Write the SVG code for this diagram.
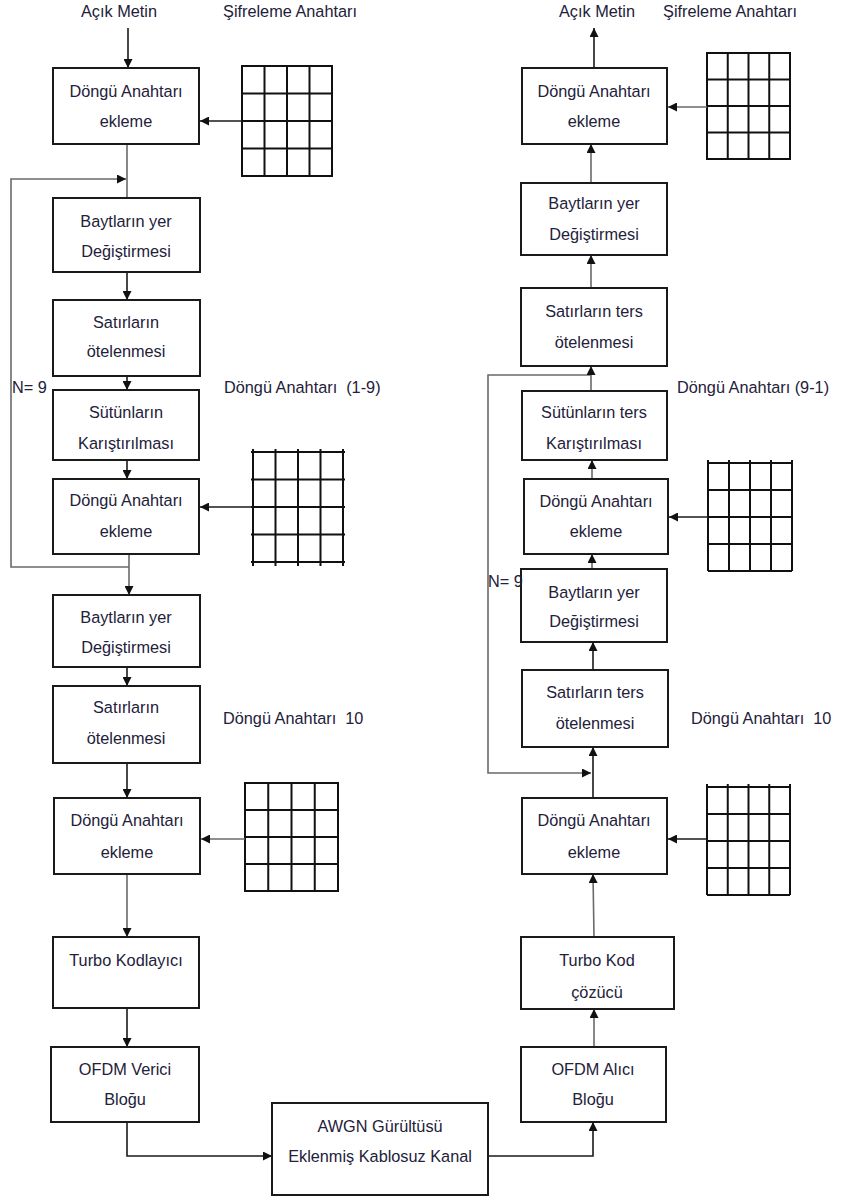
<svg xmlns="http://www.w3.org/2000/svg" width="841" height="1198" viewBox="0 0 841 1198">
  <style>
    .box { fill: #ffffff; stroke: #1a1a1a; stroke-width: 2; }
    .t { font-family: "Liberation Sans", Arial, sans-serif; font-size: 16.3px; fill: #23213a; text-anchor: middle; }
    .lbl { font-family: "Liberation Sans", Arial, sans-serif; font-size: 16.3px; fill: #23213a; }
    .ln { fill: none; stroke: #1a1a1a; stroke-width: 1.6; }
    .lg { fill: none; stroke: #6a6a6a; stroke-width: 1.6; }
    .grid { fill: none; stroke: #111111; stroke-width: 2; }
  </style>
  <defs>
    <marker id="ah" viewBox="0 0 10 10" refX="10" refY="5" markerWidth="9" markerHeight="9" markerUnits="userSpaceOnUse" orient="auto">
      <path d="M0,0 L10,5 L0,10 Z" fill="#111111"/>
    </marker>
  </defs>

  <!-- top labels -->
  <g id="labels">
    <text class="t" x="119" y="17">Açık Metin</text>
    <text class="t" x="290" y="17">Şifreleme Anahtarı</text>
    <text class="t" x="597" y="17">Açık Metin</text>
    <text class="t" x="730" y="17">Şifreleme Anahtarı</text>
    <text class="lbl" x="12" y="393">N= 9</text>
    <text class="lbl" x="224" y="393" xml:space="preserve">Döngü Anahtarı  (1-9)</text>
    <text class="lbl" x="223" y="724" xml:space="preserve">Döngü Anahtarı  10</text>
    <text class="lbl" x="677" y="393">Döngü Anahtarı (9-1)</text>
    <text class="lbl" x="691" y="724" xml:space="preserve">Döngü Anahtarı  10</text>
  </g>

  <!-- key matrices -->
  <g id="key-grid-l1" class="grid">
    <rect x="242" y="66" width="90" height="110"/>
    <path d="M264.5,66V176M287,66V176M309.5,66V176M242,93.5H332M242,121H332M242,148.5H332"/>
  </g>
  <g id="key-grid-l2" class="grid">
    <path d="M253,449V566M275.5,449V566M298,449V566M320.5,449V566M343,449V566"/>
    <path d="M251,452H345M251,479.5H345M251,507H345M251,534.5H345M251,562H345"/>
  </g>
  <g id="key-grid-l3" class="grid">
    <rect x="245" y="783" width="93" height="108"/>
    <path d="M268.25,783V891M291.5,783V891M314.75,783V891M245,810H338M245,837H338M245,864H338"/>
  </g>
  <g id="key-grid-r1" class="grid">
    <rect x="707" y="53" width="83" height="106"/>
    <path d="M727.75,53V159M748.5,53V159M769.25,53V159M707,79.5H790M707,106H790M707,132.5H790"/>
  </g>
  <g id="key-grid-r2" class="grid">
    <path d="M708,460V571M729,460V571M750,460V571M771,460V571M792,460V571"/>
    <path d="M708,463H792M708,490H792M708,517H792M708,544H792M708,571H792"/>
  </g>
  <g id="key-grid-r3" class="grid">
    <path d="M707,784V895M727.75,784V895M748.5,784V895M769.25,784V895M790,784V895"/>
    <path d="M707,787H790M707,814H790M707,841H790M707,868H790M707,895H790"/>
  </g>

  <!-- connectors -->
  <g id="connectors">
    <!-- encryption side -->
    <line class="ln" x1="128" y1="28" x2="128" y2="68" marker-end="url(#ah)"/>
    <line class="ln" x1="242" y1="121" x2="200" y2="121" marker-end="url(#ah)"/>
    <line class="lg" x1="127" y1="144" x2="127" y2="198"/>
    <path class="lg" d="M129,567 H11 V179 H126" marker-end="url(#ah)"/>
    <line class="ln" x1="127" y1="272" x2="127" y2="300" marker-end="url(#ah)"/>
    <line class="ln" x1="127" y1="376" x2="127" y2="390" marker-end="url(#ah)"/>
    <line class="ln" x1="127" y1="460" x2="127" y2="479" marker-end="url(#ah)"/>
    <line class="ln" x1="253" y1="507" x2="200" y2="507" marker-end="url(#ah)"/>
    <line class="lg" x1="129" y1="554" x2="129" y2="595" marker-end="url(#ah)"/>
    <line class="ln" x1="127" y1="667" x2="127" y2="686" marker-end="url(#ah)"/>
    <line class="ln" x1="127" y1="763" x2="127" y2="798" marker-end="url(#ah)"/>
    <line class="lg" x1="245" y1="839" x2="201" y2="839" marker-end="url(#ah)"/>
    <line class="lg" x1="127" y1="874" x2="127" y2="937" marker-end="url(#ah)"/>
    <line class="ln" x1="127" y1="1008" x2="127" y2="1047" marker-end="url(#ah)"/>
    <path class="ln" d="M127,1122 V1156 H272" marker-end="url(#ah)"/>
    <!-- channel to receiver -->
    <path class="ln" d="M488,1156 H593 V1122" marker-end="url(#ah)"/>
    <!-- decryption side -->
    <line class="lg" x1="594" y1="1047" x2="594" y2="1009" marker-end="url(#ah)"/>
    <line class="lg" x1="594" y1="937" x2="593" y2="874" marker-end="url(#ah)"/>
    <line class="ln" x1="707" y1="839" x2="668" y2="839" marker-end="url(#ah)"/>
    <line class="ln" x1="593" y1="798" x2="593" y2="747" marker-end="url(#ah)"/>
    <path class="lg" d="M591,375 H488 V773 H591" marker-end="url(#ah)"/>
    <line class="ln" x1="593" y1="670" x2="593" y2="642" marker-end="url(#ah)"/>
    <line class="lg" x1="592" y1="569" x2="592" y2="554" marker-end="url(#ah)"/>
    <line class="ln" x1="708" y1="517" x2="669" y2="517" marker-end="url(#ah)"/>
    <line class="lg" x1="592" y1="479" x2="592" y2="460" marker-end="url(#ah)"/>
    <line class="lg" x1="591" y1="391" x2="591" y2="366" marker-end="url(#ah)"/>
    <line class="lg" x1="591" y1="288" x2="591" y2="255" marker-end="url(#ah)"/>
    <line class="lg" x1="591" y1="183" x2="591" y2="144" marker-end="url(#ah)"/>
    <line class="lg" x1="707" y1="107" x2="668" y2="107" marker-end="url(#ah)"/>
    <line class="ln" x1="594" y1="68" x2="594" y2="28" marker-end="url(#ah)"/>
  </g>

  <!-- encryption chain -->
  <g id="enc-addkey-0"><rect class="box" x="53" y="68" width="146" height="76"/>
    <text class="t" x="126" y="97">Döngü Anahtarı</text><text class="t" x="126" y="127">ekleme</text></g>
  <g id="enc-subbytes"><rect class="box" x="53" y="198" width="147" height="74"/>
    <text class="t" x="126" y="227">Baytların yer</text><text class="t" x="126" y="257">Değiştirmesi</text></g>
  <g id="enc-shiftrows"><rect class="box" x="53" y="300" width="147" height="76"/>
    <text class="t" x="126" y="328">Satırların</text><text class="t" x="126" y="357">ötelenmesi</text></g>
  <g id="enc-mixcolumns"><rect class="box" x="53" y="390" width="146" height="70"/>
    <text class="t" x="126" y="418">Sütünların</text><text class="t" x="126" y="449">Karıştırılması</text></g>
  <g id="enc-addkey-round"><rect class="box" x="53" y="479" width="146" height="75"/>
    <text class="t" x="126" y="506">Döngü Anahtarı</text><text class="t" x="126" y="537">ekleme</text></g>
  <g id="enc-subbytes-final"><rect class="box" x="53" y="595" width="147" height="72"/>
    <text class="t" x="126" y="623">Baytların yer</text><text class="t" x="126" y="653">Değiştirmesi</text></g>
  <g id="enc-shiftrows-final"><rect class="box" x="53" y="686" width="147" height="77"/>
    <text class="t" x="126" y="713">Satırların</text><text class="t" x="126" y="744">ötelenmesi</text></g>
  <g id="enc-addkey-final"><rect class="box" x="54" y="798" width="146" height="76"/>
    <text class="t" x="127" y="826">Döngü Anahtarı</text><text class="t" x="127" y="858">ekleme</text></g>
  <g id="turbo-encoder"><rect class="box" x="53" y="937" width="146" height="71"/>
    <text class="t" x="126" y="966">Turbo Kodlayıcı</text></g>
  <g id="ofdm-tx"><rect class="box" x="51" y="1047" width="148" height="75"/>
    <text class="t" x="125" y="1075">OFDM Verici</text><text class="t" x="125" y="1105">Bloğu</text></g>

  <!-- channel -->
  <g id="awgn-channel"><rect class="box" x="272" y="1103" width="216" height="92"/>
    <text class="t" x="380" y="1132">AWGN Gürültüsü</text><text class="t" x="380" y="1162">Eklenmiş Kablosuz Kanal</text></g>

  <!-- decryption chain -->
  <g id="ofdm-rx"><rect class="box" x="521" y="1047" width="145" height="75"/>
    <text class="t" x="593" y="1075">OFDM Alıcı</text><text class="t" x="593" y="1105">Bloğu</text></g>
  <g id="turbo-decoder"><rect class="box" x="521" y="937" width="153" height="72"/>
    <text class="t" x="597" y="966">Turbo Kod</text><text class="t" x="597" y="998">çözücü</text></g>
  <g id="dec-addkey-first"><rect class="box" x="522" y="798" width="145" height="76"/>
    <text class="t" x="594" y="826">Döngü Anahtarı</text><text class="t" x="594" y="858">ekleme</text></g>
  <g id="dec-invshiftrows-first"><rect class="box" x="522" y="670" width="146" height="77"/>
    <text class="t" x="595" y="698">Satırların ters</text><text class="t" x="595" y="729">ötelenmesi</text></g>
  <g id="dec-invsubbytes-round"><rect class="box" x="521" y="569" width="146" height="73"/>
    <text class="t" x="594" y="598">Baytların yer</text><text class="t" x="594" y="627">Değiştirmesi</text></g>
  <g id="dec-addkey-round"><rect class="box" x="524" y="479" width="144" height="75"/>
    <text class="t" x="596" y="507">Döngü Anahtarı</text><text class="t" x="596" y="537">ekleme</text></g>
  <g id="dec-invmixcolumns"><rect class="box" x="522" y="391" width="145" height="69"/>
    <text class="t" x="594" y="418">Sütünların ters</text><text class="t" x="594" y="449">Karıştırılması</text></g>
  <g id="dec-invshiftrows"><rect class="box" x="521" y="288" width="146" height="78"/>
    <text class="t" x="594" y="317">Satırların ters</text><text class="t" x="594" y="348">ötelenmesi</text></g>
  <g id="dec-invsubbytes"><rect class="box" x="521" y="183" width="146" height="72"/>
    <text class="t" x="594" y="209">Baytların yer</text><text class="t" x="594" y="240">Değiştirmesi</text></g>
  <g id="dec-addkey-last"><rect class="box" x="522" y="68" width="145" height="76"/>
    <text class="t" x="594" y="97">Döngü Anahtarı</text><text class="t" x="594" y="127">ekleme</text></g>

  <!-- loop counter on the receiver side, drawn over the loop line -->
  <text class="lbl" x="488" y="587">N= 9</text>
</svg>
